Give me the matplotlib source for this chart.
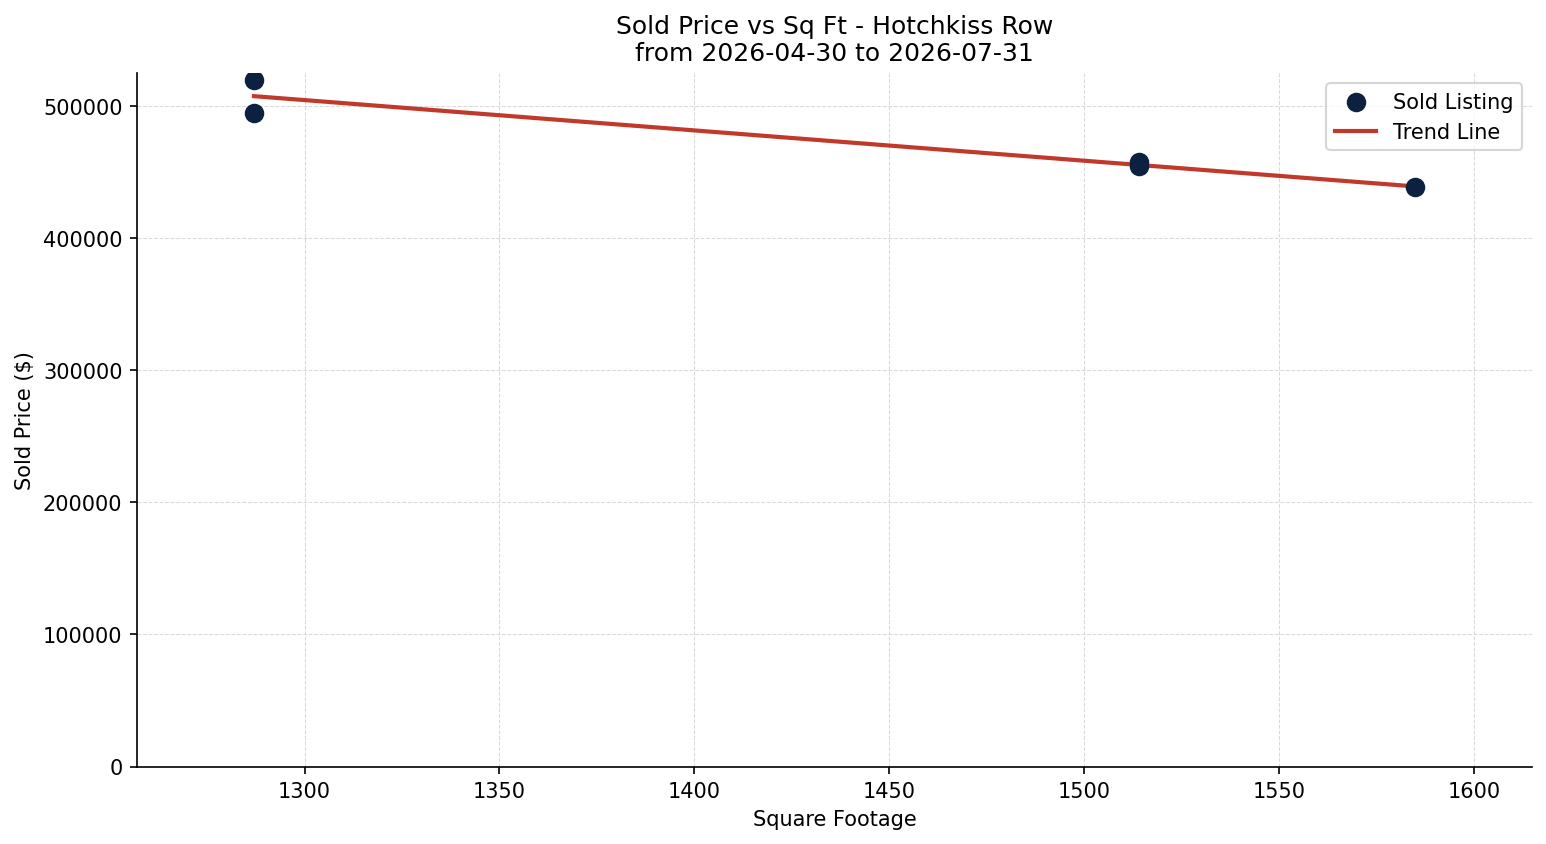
import numpy as np
import matplotlib
matplotlib.use('Agg')
import matplotlib.pyplot as plt

# sold listings
sqft = [1287, 1287, 1514, 1514, 1585]
sold_price = [520000, 495000, 457500, 454500, 438500]

community = 'Hotchkiss Row'
start_date = '2026-04-30'
end_date = '2026-07-31'


def plot_price_vs_sqft(x, y):
    x = np.array(x)
    y = np.array(y)
    fig, ax = plt.subplots(figsize=(10.313, 5.633), dpi=150)

    ax.scatter(x, y, s=70, color='#0b213f', label='Sold Listing', zorder=3)

    # simple linear trend
    slope, intercept = np.polyfit(x, y, 1)
    xs = np.array([x.min(), x.max()])
    ax.plot(xs, slope * xs + intercept, color='#c0392b', linewidth=2,
            label='Trend Line', zorder=2)

    ax.set_xlim(x.min() - 30, x.max() + 30)
    ax.set_ylim(0, y.max() * 1.01)
    ax.set_xlabel('Square Footage')
    ax.set_ylabel('Sold Price ($)')
    ax.set_title(f'Sold Price vs Sq Ft - {community}\nfrom {start_date} to {end_date}', fontsize=12)
    ax.grid(True, linestyle='--', linewidth=0.5, color='#d9d9d9')
    ax.set_axisbelow(True)
    ax.spines['top'].set_visible(False)
    ax.spines['right'].set_visible(False)
    ax.legend(loc='upper right')

    fig.tight_layout(pad=0.7)
    fig.savefig('out.png', dpi=150)


plot_price_vs_sqft(sqft, sold_price)
